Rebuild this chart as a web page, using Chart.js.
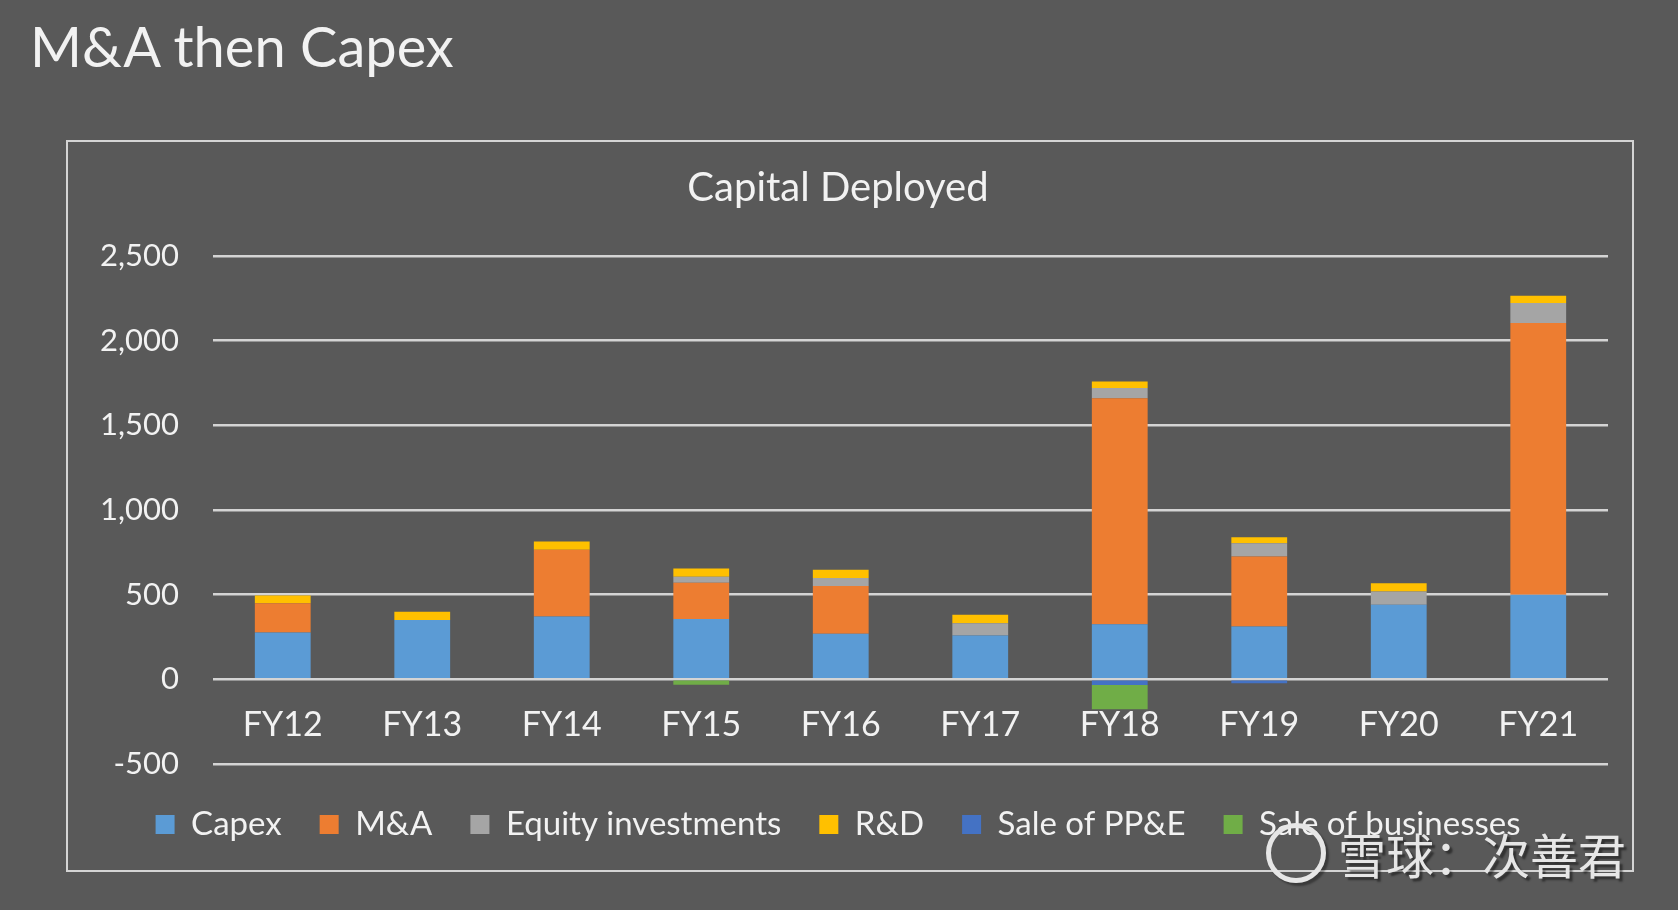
<!DOCTYPE html>
<html>
<head>
<meta charset="utf-8">
<script src="https://cdn.jsdelivr.net/npm/chart.js@4/dist/chart.umd.min.js"></script>
<style>
  html, body { margin: 0; padding: 0; background: #595959; }
  body { width: 1678px; height: 910px; position: relative; overflow: hidden; font-family: Lato, sans-serif; }
  #pageTitle { position: absolute; left: 30px; top: 16px; font-size: 56px; line-height: 60px; color: #f2f2f2; }
  #box { position: absolute; left: 66px; top: 140px; width: 1568px; height: 732px; border: 2px solid #d4d4d4; box-sizing: border-box; }
  #box canvas { display: block; }
  #mark { position: absolute; left: 1266px; top: 822px; height: 62px; display: flex; align-items: center; color: #e6e6e6;
    font-family: "Noto Sans CJK SC", sans-serif; font-size: 48px; text-shadow: 3px 3px 2px rgba(0,0,0,0.45); }
  #mark .logo { width: 50px; height: 50px; border: 5px solid #e6e6e6; border-radius: 50%; margin-right: 12px; box-shadow: 3px 3px 2px rgba(0,0,0,0.35); }
</style>
</head>
<body>
<div id="pageTitle">M&amp;A then Capex</div>
<div id="box"><canvas id="capChart" width="1564" height="728"></canvas></div>
<div id="mark"><span class="logo"></span>雪球：次善君</div>
<script>
const years = ['FY12', 'FY13', 'FY14', 'FY15', 'FY16', 'FY17', 'FY18', 'FY19', 'FY20', 'FY21']
const capex = [275, 350, 370, 355, 268, 258, 325, 311, 439, 498]
const mna = [174, 0, 394, 215, 283, 0, 1335, 413, 0, 1606]
const equityInv = [0, 0, 0, 35, 46, 73, 60, 79, 79, 118]
const rnd = [45, 49, 50, 49, 49, 49, 39, 36, 49, 43]
const salePPE = [0, -8, 0, 0, 0, 0, -35, -24, 0, 0]
const saleBiz = [0, 0, 0, -33, 0, 0, -142, 0, 0, 0]
const yTicks = [-500, 0, 500, 1000, 1500, 2000, 2500]

const textColor = '#f2f2f2'
const gridColor = '#d4d4d4'

const series = [
  { label: 'Capex', data: capex, color: '#5b9bd5' },
  { label: 'M&A', data: mna, color: '#ed7d31' },
  { label: 'Equity investments', data: equityInv, color: '#a5a5a5' },
  { label: 'R&D', data: rnd, color: '#ffc000' },
  { label: 'Sale of PP&E', data: salePPE, color: '#4472c4' },
  { label: 'Sale of businesses', data: saleBiz, color: '#70ad47' },
]

const ctx = document.getElementById('capChart').getContext('2d')
new Chart(ctx, {
  type: 'bar',
  data: {
    labels: years,
    datasets: series.map((s) => ({
      label: s.label,
      data: s.data,
      backgroundColor: s.color,
      borderWidth: 0,
      categoryPercentage: 1,
      barPercentage: 0.4,
    })),
  },
  options: {
    responsive: false,
    animation: false,
    layout: { padding: { left: 0, right: 24, top: 0, bottom: 19 } },
    plugins: {
      title: {
        display: true,
        text: 'Capital Deployed',
        color: textColor,
        font: { family: 'Lato', size: 40, weight: 'normal' },
        padding: { top: 22, bottom: 44 },
      },
      legend: {
        position: 'bottom',
        // empty title only pushes the legend row down a little
        title: { display: true, text: '', font: { size: 1 }, padding: { top: 5, bottom: 0 } },
        labels: {
          color: textColor,
          font: { family: 'Lato', size: 33 },
          boxWidth: 19,
          boxHeight: 19,
          padding: 38,
        },
      },
      tooltip: { enabled: false },
    },
    scales: {
      x: {
        stacked: true,
        position: { y: 0 },
        grid: { display: false },
        border: { display: false },
        ticks: { color: textColor, font: { family: 'Lato', size: 34 }, padding: 17, maxRotation: 0 },
      },
      y: {
        stacked: true,
        min: yTicks[0],
        max: yTicks[yTicks.length - 1],
        afterBuildTicks(scale) {
          scale.ticks = yTicks.map((v) => ({ value: v }))
        },
        afterFit(scale) {
          scale.width = 145
        },
        grid: { color: gridColor, lineWidth: 2.5, drawTicks: false },
        border: { display: false },
        ticks: { color: textColor, font: { family: 'Lato', size: 31 }, padding: 34 },
      },
    },
  },
})
</script>
</body>
</html>
